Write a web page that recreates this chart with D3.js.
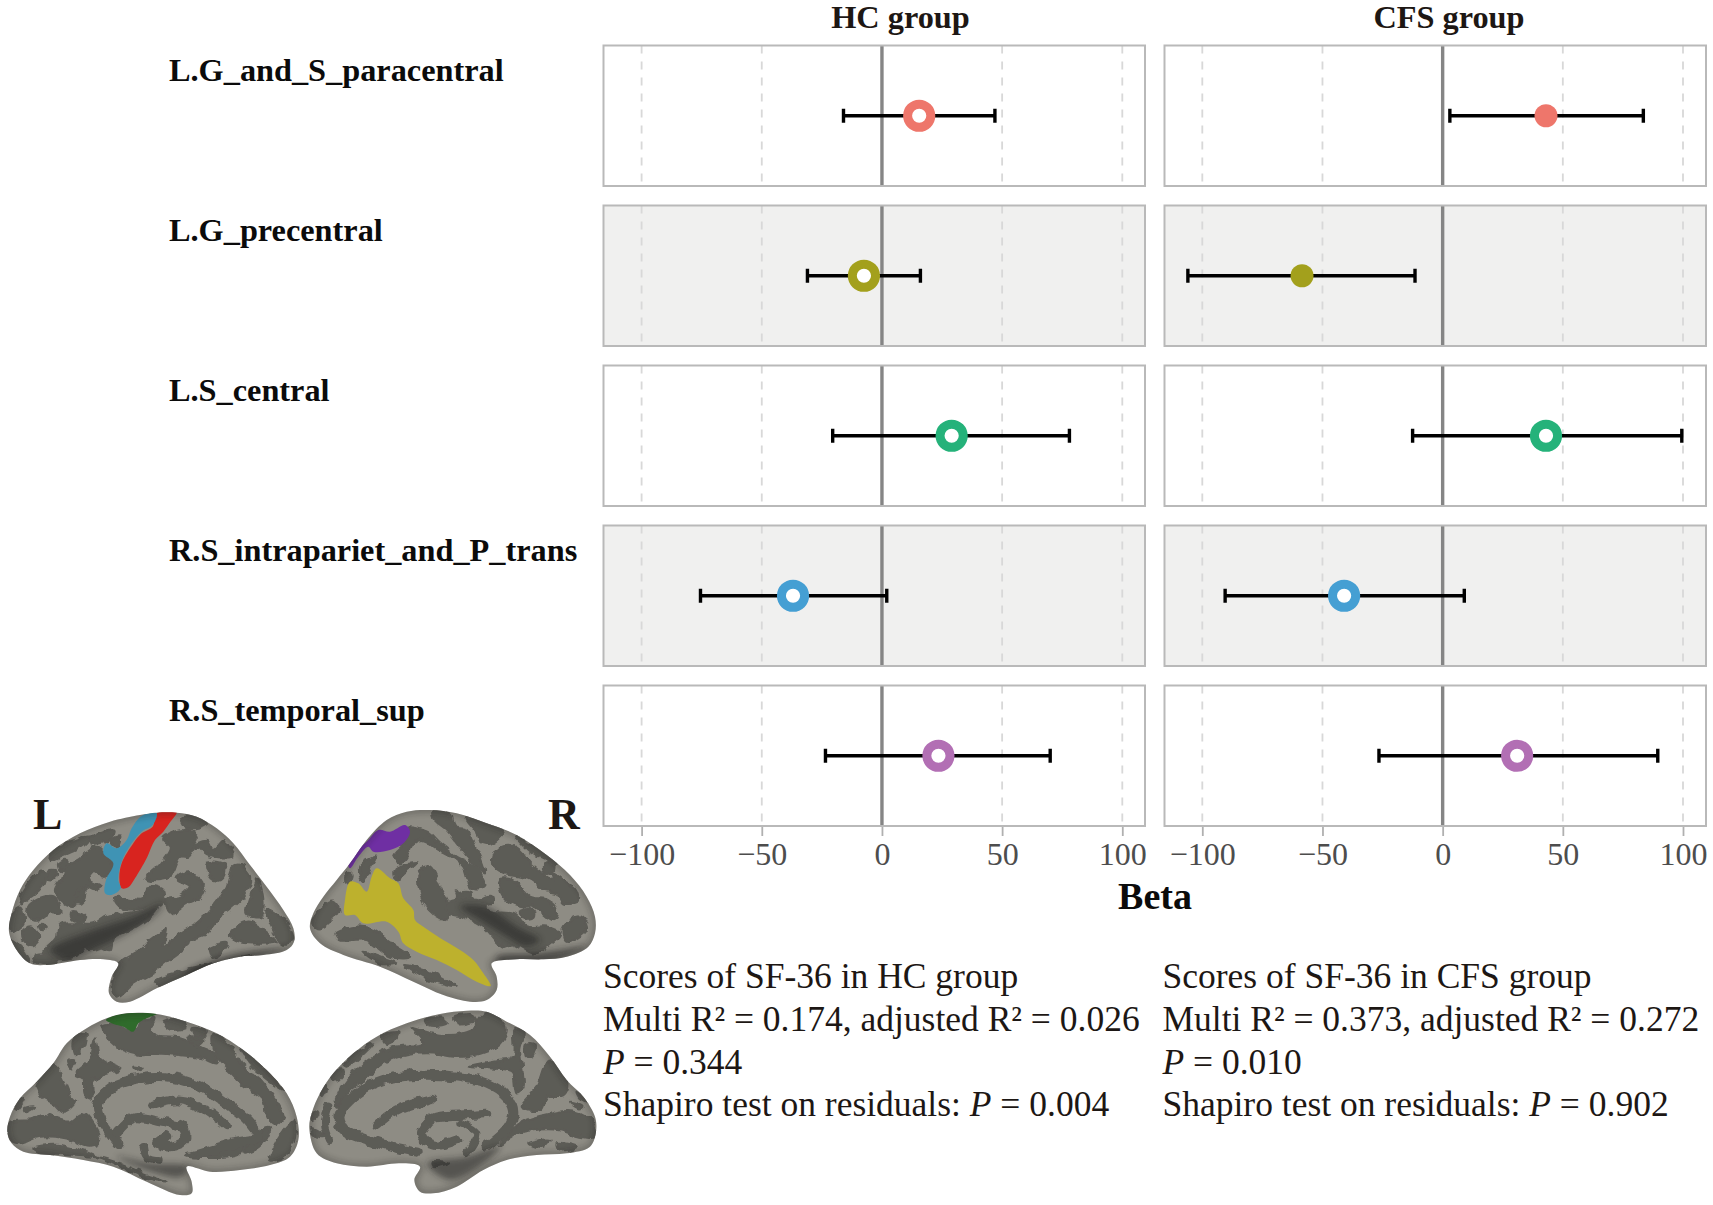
<!DOCTYPE html>
<html><head><meta charset="utf-8">
<script src="https://cdn.jsdelivr.net/npm/d3@7"></script>
<style>html,body{margin:0;padding:0;background:#fff}svg{display:block}text{font-family:"Liberation Serif",serif}</style>
</head><body><svg id="c" width="1713" height="1205"></svg>
<script>
const categories=["L.G_and_S_paracentral","L.G_precentral","L.S_central","R.S_intrapariet_and_P_trans","R.S_temporal_sup"];
const seriesColors=["#EE766B","#A3A01C","#25B27A","#459FD3","#B26FB4"];
const hcBeta=[15.5,-7.5,29,-37,23.5];
const hcLow=[-16,-31,-20.5,-75.5,-23.5];
const hcHigh=[47,16,78,2,70];
const cfsBeta=[43,-58.5,43,-41,31];
const cfsLow=[3,-106,-12.5,-90.5,-26.5];
const cfsHigh=[83.5,-11.5,99.5,9,89.5];
const cfsFilled=[true,true,false,false,false];
const tickValues=[-100,-50,0,50,100];
const panelTops=[45.5,205.5,365.5,525.5,685.5];
const hcText=["Scores of SF-36 in HC group","Multi R² = 0.174, adjusted R² = 0.026","P = 0.344","Shapiro test on residuals: P = 0.004"];
const cfsText=["Scores of SF-36 in CFS group","Multi R² = 0.373, adjusted R² = 0.272","P = 0.010","Shapiro test on residuals: P = 0.902"];

// ---- brain illustration shapes (in 3x crop units) ----
const brainA={origin:[0,800],
 outline:[[27,395],[35,340],[60,270],[100,210],[160,150],[240,100],[330,65],[420,45],[470,38],[530,38],[590,50],[650,85],[700,130],[750,195],[800,260],[850,330],[880,385],[882,425],[860,450],[790,465],[720,470],[640,490],[560,525],[470,565],[390,605],[350,605],[327,580],[335,530],[355,490],[310,478],[240,480],[140,495],[90,490],[50,450]],
 dark:[[[160,150],[240,115],[270,110],[250,135],[190,165],[150,180]],[[175,190],[200,180],[205,200],[180,210]],[[270,115],[340,92],[330,115],[280,130]],
 [[200,200],[240,175],[290,140],[320,170],[345,215],[310,230],[290,215],[270,240],[300,260],[280,270],[250,260],[220,320],[180,300],[165,270],[190,230]],
 [[60,290],[120,215],[135,225],[120,270],[90,295],[65,310]],[[150,215],[170,215],[165,235],[140,235]],[[85,320],[110,300],[160,290],[180,340],[150,340],[110,365],[85,355]],
 [[240,265],[255,265],[245,310],[225,305]],[[215,335],[255,345],[245,365],[215,355]],[[120,375],[140,380],[130,390]],[[70,390],[100,380],[120,410],[100,435],[70,420]],
 [[140,445],[170,415],[180,375],[280,370],[320,345],[380,340],[440,330],[470,325],[450,350],[400,385],[340,415],[330,450],[270,430],[240,465],[180,480],[130,470]],
 [[345,295],[430,300],[440,260],[490,270],[490,310],[430,325],[370,325]],[[100,470],[140,465],[170,490],[110,490]],
 [[490,115],[560,90],[590,110],[580,130],[620,120],[640,150],[670,120],[700,170],[670,175],[620,165],[590,140],[565,170],[540,170],[510,230],[470,240],[440,235],[480,190],[510,140]],
 [[545,50],[610,55],[620,75],[560,85]],[[620,190],[675,200],[660,240],[635,235]],[[530,235],[570,220],[610,250],[600,290],[560,310],[510,340],[500,300],[540,290],[570,260]],
 [[700,200],[720,195],[750,230],[730,290],[690,330],[660,350],[620,400],[570,420],[560,440],[510,480],[470,510],[400,550],[350,590],[335,560],[360,490],[420,450],[450,420],[500,390],[490,440],[540,400],[590,370],[640,320],[680,260]],
 [[770,240],[790,300],[780,350],[740,340],[750,290]],[[800,330],[850,360],[880,420],[850,430],[810,370]],[[690,405],[745,365],[790,390],[830,425],[760,430],[720,425]],
 [[630,445],[680,430],[660,460],[640,470]],[[470,540],[560,510],[650,490],[760,465],[640,500],[550,540],[480,560]],
 [[30,350],[60,320],[70,370],[35,395]],[[225,420],[300,395],[330,420],[270,450]],[[30,420],[60,440],[90,490],[50,460]],[[330,120],[360,110],[350,140]]],
 bands:[],
 shade:[[[150,450],[280,390],[400,350],[490,310],[470,340],[380,400],[300,440],[200,480]],[[560,520],[700,465],[860,445],[720,490],[560,550]]],
 regions:[{c:"#D8241F",p:[[470,40],[530,36],[508,70],[490,95],[465,120],[440,175],[405,235],[385,262],[365,265],[358,235],[365,190],[400,130],[425,100],[458,80]]},
 {c:"#3F93B4",p:[[425,48],[470,40],[458,75],[425,95],[395,130],[365,185],[355,240],[362,265],[335,285],[315,280],[318,240],[340,190],[310,160],[320,130],[350,145],[380,120],[395,85]]}]};
const brainB={origin:[300,800],
 outline:[[30,385],[40,340],[70,290],[110,240],[150,190],[200,120],[260,60],[320,35],[390,30],[470,40],[560,70],[650,105],[740,165],[810,225],[860,290],[885,350],[885,400],[865,440],[800,470],[730,478],[650,478],[575,490],[590,530],[590,570],[560,600],[510,605],[430,585],[340,545],[240,500],[130,465],[60,430]],
 dark:[[[320,85],[380,95],[420,130],[470,170],[510,190],[540,220],[555,260],[515,265],[490,200],[440,160],[410,145],[370,120],[340,130],[320,170],[300,190],[280,165],[310,130]],
 [[400,30],[450,45],[460,80],[500,90],[515,120],[540,170],[555,220],[510,180],[480,140],[440,90],[400,55]],[[500,55],[560,70],[610,90],[570,130],[540,125],[530,95]],
 [[590,150],[625,135],[660,150],[690,190],[720,215],[760,240],[760,220],[790,240],[830,270],[835,300],[790,310],[770,280],[730,270],[690,240],[660,230],[610,220],[580,190]],
 [[730,195],[760,190],[760,215],[735,220]],[[650,110],[720,150],[770,190],[700,160]],[[360,210],[390,200],[420,260],[450,330],[430,355],[390,330],[360,280]],
 [[290,205],[350,190],[320,215],[290,235]],[[180,195],[230,170],[210,205],[190,240],[180,225]],[[470,280],[510,275],[510,295],[480,305]],[[545,295],[580,290],[575,310],[545,315]],
 [[440,310],[540,300],[570,330],[640,340],[680,380],[740,380],[780,400],[740,440],[700,460],[640,430],[610,440],[550,380],[490,350],[450,340]],[[660,335],[700,330],[700,350],[670,355]],
 [[600,240],[640,240],[690,290],[740,300],[770,330],[760,360],[700,320],[660,320],[610,290]],[[790,380],[840,350],[860,390],[800,425]],
 [[110,400],[170,380],[220,390],[260,420],[330,470],[270,470],[200,420],[120,420]],[[190,455],[240,470],[290,490],[240,490]],[[315,495],[400,520],[470,560],[400,545]],
 [[50,340],[100,305],[115,330],[60,385],[40,370]],[[135,225],[160,225],[150,250],[135,245]]],
 bands:[],
 shade:[[[480,320],[560,320],[650,380],[720,420],[680,440],[620,410],[540,360]],[[590,470],[700,460],[860,440],[740,490],[600,500]]],
 regions:[{c:"#BDB12D",p:[[230,205],[270,235],[295,250],[310,295],[340,330],[345,360],[370,380],[430,420],[480,450],[520,480],[550,520],[572,558],[530,545],[470,510],[410,480],[350,455],[310,430],[295,395],[260,365],[190,370],[165,345],[135,345],[135,300],[150,245],[175,250],[200,275],[215,230]]},
 {c:"#6F2FA3",p:[[235,90],[270,95],[315,75],[330,95],[310,130],[270,150],[220,155],[205,140],[175,170],[150,205],[145,195],[175,150],[205,120]]}]};
const brainC={origin:[0,1000],
 outline:[[22,395],[30,350],[60,295],[110,245],[160,190],[200,130],[260,85],[320,55],[380,40],[470,42],[560,65],[650,100],[730,150],[800,210],[860,280],[890,350],[895,420],[870,470],[810,495],[720,510],[630,515],[560,500],[575,545],[575,580],[540,585],[440,545],[340,500],[250,480],[150,465],[70,455],[35,430]],
 dark:[[[305,80],[340,72],[400,95],[430,60],[460,55],[450,90],[480,110],[540,115],[600,140],[640,160],[650,190],[610,175],[540,165],[470,160],[420,165],[370,150],[330,120]],
 [[490,65],[550,60],[560,80],[510,88]],[[575,85],[620,95],[610,110],[580,105]],[[565,110],[610,120],[590,135]],
 [[640,105],[680,125],[720,190],[780,240],[820,290],[850,350],[830,375],[800,350],[790,300],[730,255],[690,215],[650,170]],[[720,135],[780,190],[850,270],[800,235],[750,190]],
 [[220,120],[255,100],[250,140],[225,165]],[[205,180],[225,180],[215,205]],
 [[285,115],[300,170],[340,195],[365,205],[310,225],[280,240],[275,295],[255,285],[250,240],[225,225],[270,180]],[[400,200],[425,205],[405,208]],
 [[110,260],[160,195],[190,240],[210,285],[225,305],[190,335],[160,310],[125,290]],[[45,310],[75,295],[50,330]],[[75,325],[105,320],[80,335]],
 [[25,370],[100,360],[130,345],[210,365],[250,340],[300,420],[270,440],[200,415],[120,410],[60,430],[30,420]],
 [[100,445],[170,435],[240,450],[340,490],[430,530],[500,545],[430,520],[310,475],[200,465],[120,460]],[[810,480],[840,410],[885,365],[880,430],[850,470]],[[730,460],[790,390],[810,385],[780,440]],
 [[560,465],[660,440],[740,420],[720,460],[600,470]]],
 bands:[{w:30,p:[[355,430],[300,350],[295,310],[340,260],[420,235],[520,235],[600,260],[680,310],[750,370],[770,410],[700,430],[600,460]]},
 {w:26,p:[[460,315],[540,300],[610,325],[680,375]]},
 {w:28,p:[[350,400],[400,355],[480,365],[550,385],[555,420],[510,440],[470,430],[500,410]]},
 {w:22,p:[[430,440],[440,470],[480,480]]}],
 shade:[[[350,470],[450,490],[560,500],[545,530],[440,510]]],
 regions:[{c:"#2F6B2B",p:[[318,60],[350,45],[400,38],[470,42],[440,55],[415,70],[400,95],[370,80],[340,72]]}]};
const brainD={origin:[300,1000],
 outline:[[28,385],[35,340],[60,280],[100,220],[160,160],[230,110],[320,70],[420,42],[500,32],[560,35],[620,65],[690,105],[750,170],[800,240],[850,290],[885,350],[888,395],[870,440],[800,460],[710,465],[620,480],[550,510],[470,560],[400,580],[360,575],[343,540],[360,500],[300,490],[200,500],[110,490],[50,460]],
 dark:[[[335,85],[375,95],[420,105],[490,100],[525,85],[530,60],[560,35],[600,55],[620,90],[600,130],[540,160],[470,170],[400,160],[320,165],[250,190],[190,240],[150,270],[110,320],[110,290],[160,220],[220,170],[290,140],[370,130]],
 [[375,60],[430,55],[440,70],[385,75]],[[460,55],[520,48],[525,60],[470,72]],[[250,105],[295,95],[280,125],[255,130]],[[130,190],[200,140],[220,130],[170,180],[140,200]],
 [[645,85],[670,100],[660,150],[665,200],[670,260],[650,280],[635,215],[570,205],[505,200],[600,180],[640,170]],[[680,130],[705,130],[700,170],[680,170]],
 [[740,190],[770,190],[805,250],[790,285],[740,290],[720,330],[665,320],[710,260]],[[100,215],[130,210],[120,235],[95,235]],[[65,255],[80,265],[65,290]],
 [[35,335],[55,340],[40,360]],[[35,385],[60,395],[75,410],[40,405]],[[600,435],[660,370],[760,340],[820,335],[880,370],[885,410],[840,410],[780,390],[700,390],[650,400]],
 [[685,430],[745,420],[730,440]],[[770,430],[830,440],[780,450]],[[830,275],[870,310],[840,295]],[[810,305],[850,320],[840,325]],[[280,445],[340,455],[290,455]],[[395,485],[450,490],[400,500]]],
 bands:[{w:30,p:[[350,455],[220,425],[130,385],[120,340],[170,280],[250,240],[350,225],[470,230],[560,250],[620,290],[640,340],[625,380],[560,440]]},
 {w:28,p:[[230,375],[290,330],[395,298]]},{w:28,p:[[560,340],[490,345],[400,355],[365,405],[400,435],[470,420]]},{w:22,p:[[480,370],[530,400],[500,460]]},
 {w:24,p:[[85,320],[75,370],[90,420]]}],
 shade:[[[380,490],[500,470],[600,440],[550,490],[450,540]]],
 regions:[]};
const brains=[brainA,brainB,brainC,brainD];

const svg=d3.select("#c");
const defs=svg.append("defs");
defs.append("filter").attr("id","soft").attr("x","-30%").attr("y","-30%").attr("width","160%").attr("height","160%").append("feGaussianBlur").attr("stdDeviation",9);
const rough=defs.append("filter").attr("id","rough").attr("x","-5%").attr("y","-5%").attr("width","110%").attr("height","110%");
rough.append("feTurbulence").attr("type","fractalNoise").attr("baseFrequency",0.035).attr("numOctaves",2).attr("seed",7).attr("result","n");
rough.append("feDisplacementMap").attr("in","SourceGraphic").attr("in2","n").attr("scale",22).attr("xChannelSelector","R").attr("yChannelSelector","G");

const LIGHT="#8E8C84",DARK="#5C5B56";
const closed=d3.line().curve(d3.curveCatmullRomClosed.alpha(0.5));
const open=d3.line().curve(d3.curveCatmullRom.alpha(0.5));
brains.forEach((b,i)=>{
  const g=svg.append("g").attr("transform",`translate(${b.origin[0]},${b.origin[1]}) scale(${1/3})`);
  defs.append("clipPath").attr("id","clip"+i).append("path").attr("d",closed(b.outline));
  g.append("path").attr("d",closed(b.outline)).attr("fill",LIGHT);
  const inner=g.append("g").attr("clip-path",`url(#clip${i})`);
  const art=inner.append("g").attr("filter","url(#rough)");
  art.selectAll(".d").data(b.dark).join("path").attr("d",d=>closed(d)).attr("fill",DARK).attr("stroke",DARK).attr("stroke-width",7).attr("stroke-linejoin","round");
  art.selectAll(".b").data(b.bands).join("path").attr("d",d=>open(d.p)).attr("fill","none").attr("stroke",DARK).attr("stroke-width",d=>d.w).attr("stroke-linecap","round");
  inner.selectAll(".r").data(b.regions).join("path").attr("d",d=>closed(d.p)).attr("fill",d=>d.c);
  inner.selectAll(".s").data(b.shade).join("path").attr("d",d=>closed(d)).attr("fill","#1f1e1c").attr("opacity",.5).attr("filter","url(#soft)");
  inner.append("path").attr("d",closed(b.outline)).attr("fill","none").attr("stroke","#1d1c1a").attr("stroke-width",12).attr("opacity",.4).attr("filter","url(#soft)");
});

// ---- panels ----
const panelH=140.5;
const groups=[
 {title:"HC group",titleX:900.5,x0:603.5,x1:1145,scale:d3.scaleLinear().domain([-100,100]).range([641.6,1122.3]),beta:hcBeta,low:hcLow,high:hcHigh,filled:categories.map(()=>false),lines:hcText,textX:603},
 {title:"CFS group",titleX:1449,x0:1164.5,x1:1706,scale:d3.scaleLinear().domain([-100,100]).range([1202.3,1683]),beta:cfsBeta,low:cfsLow,high:cfsHigh,filled:cfsFilled,lines:cfsText,textX:1162.5}];
const INK="#1d1714";
groups.forEach(G=>{
  const x=G.scale;
  svg.append("text").attr("x",G.titleX).attr("y",28).attr("text-anchor","middle").attr("font-size",32.3).attr("font-weight","bold").attr("fill",INK).text(G.title);
  categories.forEach((c,i)=>{
    const top=panelTops[i],bot=top+panelH,mid=top+panelH/2;
    const p=svg.append("g");
    p.append("rect").attr("x",G.x0).attr("y",top).attr("width",G.x1-G.x0).attr("height",panelH).attr("fill",i%2?"#F0F0EF":"#fff");
    p.selectAll(".grid").data(tickValues.filter(t=>t!==0)).join("line").attr("x1",d=>x(d)).attr("x2",d=>x(d)).attr("y1",top).attr("y2",bot).attr("stroke","#D8D8D8").attr("stroke-width",1.8).attr("stroke-dasharray","8 8");
    p.append("line").attr("x1",x(0)).attr("x2",x(0)).attr("y1",top).attr("y2",bot).attr("stroke","#858585").attr("stroke-width",3.4);
    p.append("rect").attr("x",G.x0).attr("y",top).attr("width",G.x1-G.x0).attr("height",panelH).attr("fill","none").attr("stroke","#B9B9B9").attr("stroke-width",2);
    p.append("line").attr("x1",x(G.low[i])).attr("x2",x(G.high[i])).attr("y1",mid).attr("y2",mid).attr("stroke","#000").attr("stroke-width",3.4);
    [G.low[i],G.high[i]].forEach(v=>p.append("line").attr("x1",x(v)).attr("x2",x(v)).attr("y1",mid-7).attr("y2",mid+7).attr("stroke","#000").attr("stroke-width",3.4));
    if(G.filled[i]) p.append("circle").attr("cx",x(G.beta[i])).attr("cy",mid).attr("r",11.5).attr("fill",seriesColors[i]);
    else p.append("circle").attr("cx",x(G.beta[i])).attr("cy",mid).attr("r",11.6).attr("fill","#fff").attr("stroke",seriesColors[i]).attr("stroke-width",9);
  });
  const axis=d3.axisBottom(x).tickValues(tickValues).tickSize(9).tickPadding(8).tickFormat(d=>d<0?"\u2212"+Math.abs(d):d);
  const ax=svg.append("g").attr("transform",`translate(0,${panelTops[4]+panelH+1})`).call(axis);
  ax.select(".domain").remove();
  ax.selectAll("line").attr("stroke","#B0B0B0").attr("stroke-width",1.8);
  ax.selectAll("text").attr("font-size",32).attr("fill","#4D4D4D").attr("font-family","Liberation Serif").attr("y",null).attr("dy",null).attr("transform","translate(0,37.5)");
  const ys=[988,1031,1073.5,1116];
  G.lines.forEach((ln,k)=>{
    const t=svg.append("text").attr("x",G.textX).attr("y",ys[k]).attr("font-size",35.5).attr("fill",INK);
    const parts=ln.split(/(?<![A-Za-z])(P)(?= =)/);
    parts.forEach(s=>{ if(s) t.append("tspan").attr("font-style",s==="P"?"italic":"normal").text(s); });
  });
});
svg.selectAll(".lab").data(categories).join("text").attr("x",169).attr("y",(d,i)=>panelTops[i]+35).attr("font-size",32.3).attr("font-weight","bold").attr("fill","#0b0b0b").text(d=>d);
svg.append("text").attr("x",1155).attr("y",909).attr("text-anchor","middle").attr("font-size",38).attr("font-weight","bold").attr("fill","#0b0b0b").text("Beta");
svg.append("text").attr("x",33).attr("y",829).attr("font-size",44).attr("font-weight","bold").attr("fill",INK).text("L");
svg.append("text").attr("x",548).attr("y",829).attr("font-size",44).attr("font-weight","bold").attr("fill",INK).text("R");
</script></body></html>
